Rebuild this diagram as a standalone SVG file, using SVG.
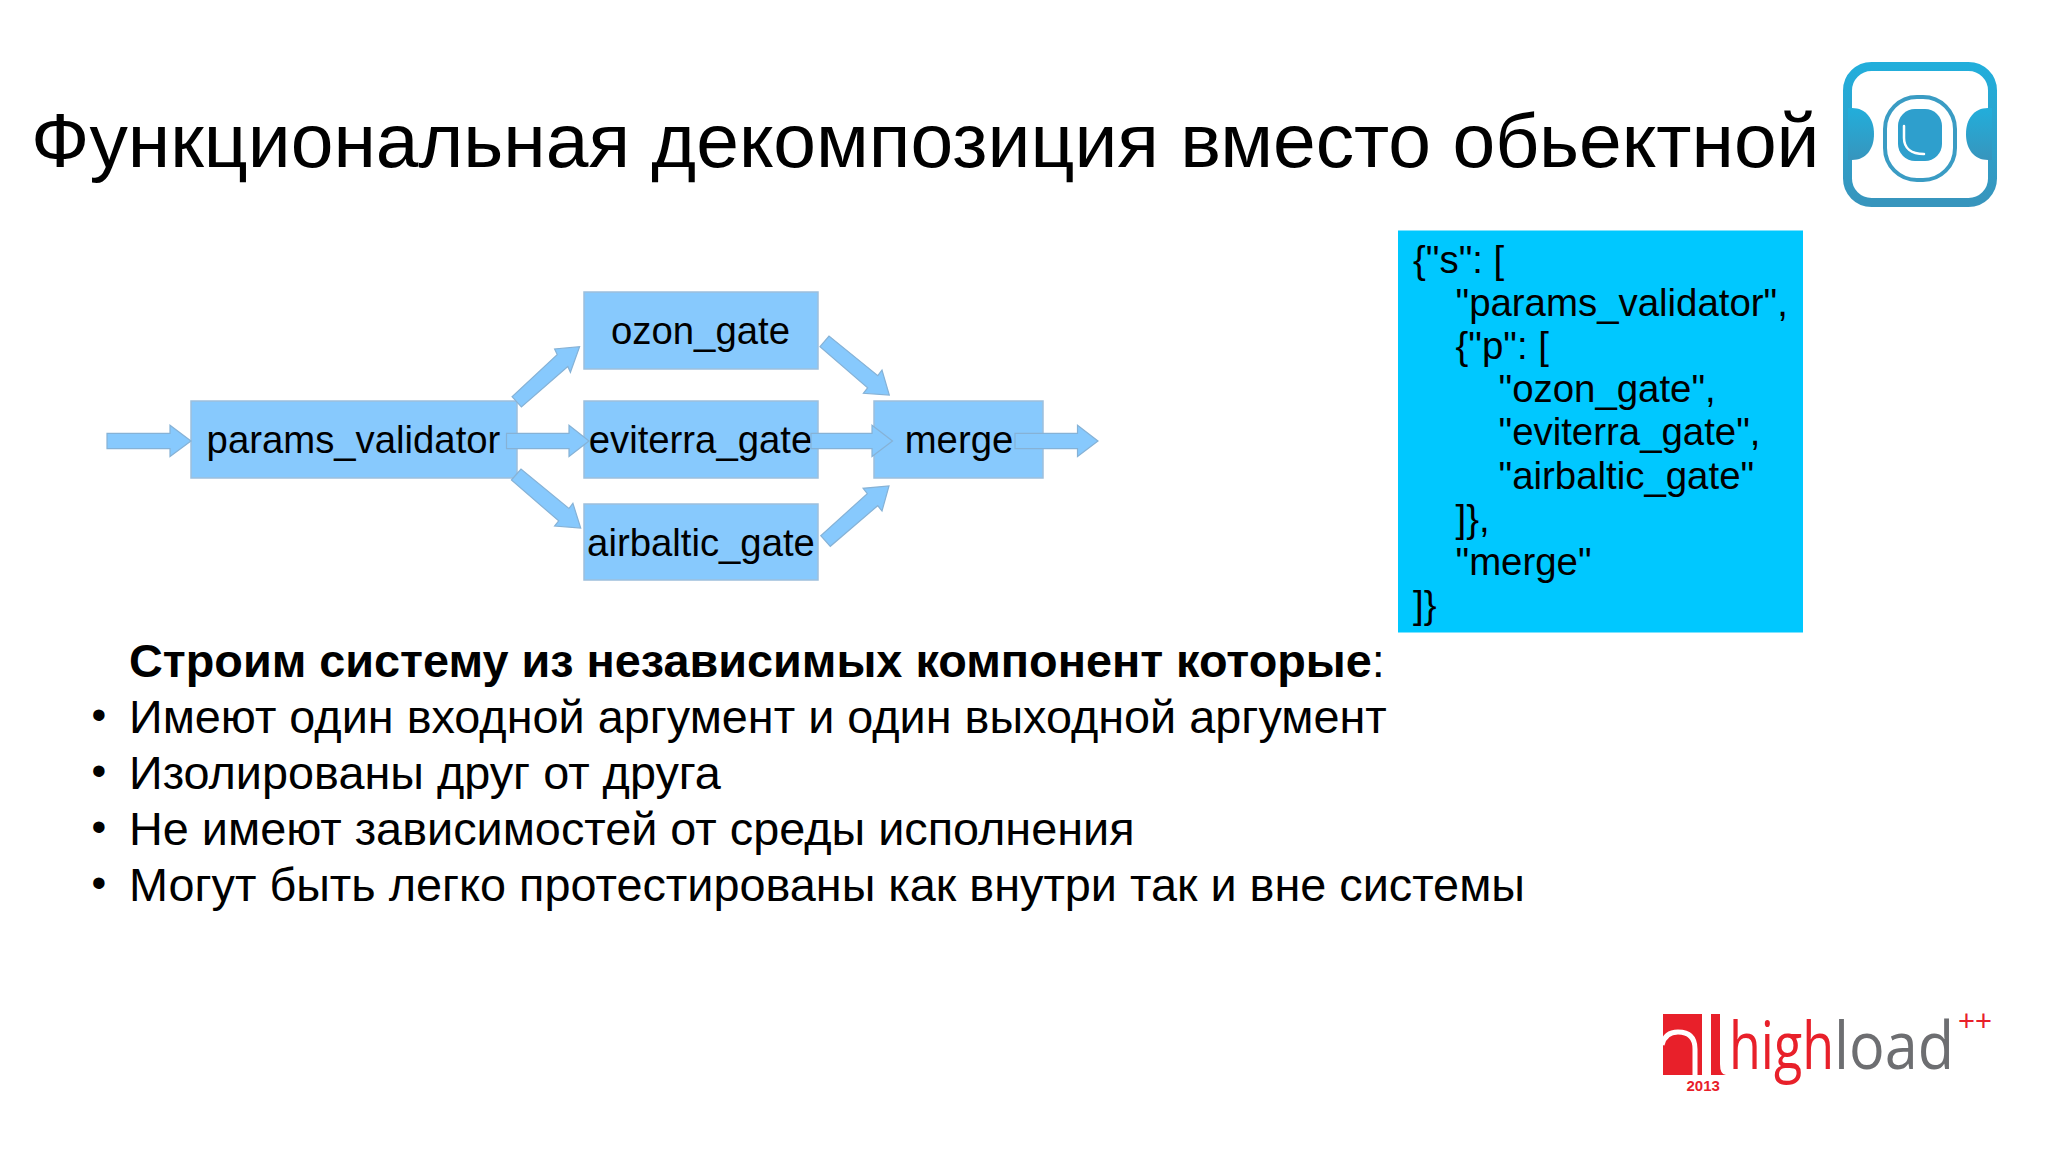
<svg xmlns="http://www.w3.org/2000/svg" width="2048" height="1152" viewBox="0 0 2048 1152">
<defs>
<linearGradient id="ic" x1="0" y1="0" x2="0" y2="1"><stop offset="0" stop-color="#22aedb"/><stop offset="1" stop-color="#3795bd"/></linearGradient>
</defs>
<style>
text{font-family:"Liberation Sans",Arial,sans-serif;fill:#000}
.box{fill:#87c9fd;stroke:#9dbfdc;stroke-width:1.5}
.arr{fill:#87c9fd;stroke:#86b2d6;stroke-width:1.2}
.lbl{font-size:38.3px;text-anchor:middle}
.code{font-size:38.4px}
.body{font-size:46.8px}
.bul{font-size:42px}
.hr{fill:#e8202a}
.hg{fill:#6d6e71}
.hl{font-size:66px;font-family:"Open Sans",sans-serif;font-weight:500}
</style>
<rect width="2048" height="1152" fill="#fff"/>
<text x="31" y="167" font-size="76.8">Функциональная декомпозиция вместо обьектной</text>
<g id="node-params"><rect class="box" x="191" y="401" width="326" height="77"/><text class="lbl" x="353.500" y="453">params_validator</text></g>
<g id="node-ozon"><rect class="box" x="584" y="292" width="234" height="77"/><text class="lbl" x="700.500" y="344">ozon_gate</text></g>
<g id="node-eviterra"><rect class="box" x="584" y="401" width="234" height="77"/><text class="lbl" x="700.500" y="453">eviterra_gate</text></g>
<g id="node-airbaltic"><rect class="box" x="584" y="504" width="234" height="76"/><text class="lbl" x="701" y="556">airbaltic_gate</text></g>
<g id="node-merge"><rect class="box" x="874" y="401" width="169" height="77"/><text class="lbl" x="959" y="453">merge</text></g>
<g id="connectors">
<polygon class="arr" points="107,433.300 170,433.300 170,425.300 191,441 170,456.500 170,448.700 107,448.700"/>
<polygon class="arr" points="506.500,433.300 569,433.300 569,425.300 589,441 569,456.500 569,448.700 506.500,448.700"/>
<polygon class="arr" points="811,433.300 872,433.300 872,425.300 892.500,441 872,456.500 872,448.700 811,448.700"/>
<polygon class="arr" points="1015,433.300 1077.500,433.300 1077.500,425.300 1098,441 1077.500,456.500 1077.500,448.700 1015,448.700"/>
<polygon class="arr" points="512,396.700 521.400,407 567.800,366.600 570.400,372.300 579.600,346.700 554.600,349 557.200,354.600"/>
<polygon class="arr" points="511.400,480 521,469 568.900,508.500 572.900,503.300 580.700,528 554.600,526 558.700,520.900"/>
<polygon class="arr" points="820,346.700 829,336 877.800,375.600 882,370 889.300,395 863.400,393.300 867.600,387.800"/>
<polygon class="arr" points="820.700,535.700 830.300,546.300 877.700,505.700 882,511 889,486 863.100,488.300 867.300,493.700"/>
</g>
<g id="node-code"><rect x="1398" y="230.500" width="405" height="402" fill="#00c8ff"/>
<text class="code" x="1413" y="273">{"s": [</text>
<text class="code" x="1455.500" y="316">"params_validator",</text>
<text class="code" x="1455.500" y="359">{"p": [</text>
<text class="code" x="1498.500" y="402">"ozon_gate",</text>
<text class="code" x="1498.500" y="445">"eviterra_gate",</text>
<text class="code" x="1498.500" y="488.500">"airbaltic_gate"</text>
<text class="code" x="1455.500" y="531.500">]},</text>
<text class="code" x="1455.500" y="574.500">"merge"</text>
<text class="code" x="1413" y="617.500">]}</text>
</g>
<text class="body" x="129" y="677"><tspan font-weight="700">Строим систему из независимых компонент которые</tspan>:</text>
<text class="bul" x="91.500" y="729">•</text><text class="body" x="129" y="733">Имеют один входной аргумент и один выходной аргумент</text>
<text class="bul" x="91.500" y="785">•</text><text class="body" x="129" y="789">Изолированы друг от друга</text>
<text class="bul" x="91.500" y="841">•</text><text class="body" x="129" y="845">Не имеют зависимостей от среды исполнения</text>
<text class="bul" x="91.500" y="897">•</text><text class="body" x="129" y="901">Могут быть легко протестированы как внутри так и вне системы</text>
<g id="logo-icon">
<rect x="1847.500" y="66.500" width="145" height="136" rx="24" fill="#fff" stroke="url(#ic)" stroke-width="9"/>
<path d="M1848 108h4c14 0 22 11 22 26s-8 26-22 26h-4z" fill="url(#ic)"/>
<path d="M1992 108h-4c-14 0-22 11-22 26s8 26 22 26h4z" fill="url(#ic)"/>
<rect x="1885" y="97" width="70" height="83" rx="32" fill="none" stroke="#3a9cc4" stroke-width="4"/>
<rect x="1898" y="109" width="44" height="52" rx="17" fill="#2e9fcd"/>
<path d="M1904 126v12c0 10 7 16 20 16" fill="none" stroke="#fff" stroke-width="2.500" stroke-linecap="round"/>
</g>
<g id="logo-highload">
<rect class="hr" x="1663" y="1014" width="39" height="61"/>
<path class="hr" d="M1711 1014h9v50q0 11 6 11h-15z"/>
<path d="M1662 1045q3-13 16-13 17 0 17 17v27" fill="none" stroke="#fff" stroke-width="5"/>
<text class="hl hr" x="1729" y="1069" textLength="105" lengthAdjust="spacingAndGlyphs">high</text>
<text class="hl hg" x="1834" y="1069" textLength="120" lengthAdjust="spacingAndGlyphs">load</text>
<text class="hr" x="1686.500" y="1091" font-size="15" font-weight="700">2013</text>
<text class="hr" x="1958" y="1031" font-size="29">++</text>
</g>
</svg>
